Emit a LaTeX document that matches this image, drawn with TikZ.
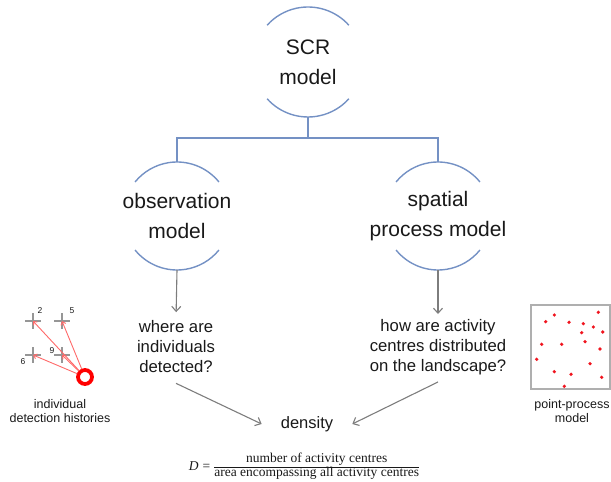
\documentclass[tikz,border=0pt]{standalone}
\usepackage{fontspec}
\setmainfont{Liberation Sans}
\newfontfamily\seriffam{Liberation Serif}
\usetikzlibrary{arrows.meta,calc}
\definecolor{linkblue}{RGB}{116,145,196}
\definecolor{arrowgray}{RGB}{125,125,125}
\definecolor{txt}{RGB}{25,25,25}
\definecolor{dotred}{RGB}{240,20,30}
\definecolor{linered}{RGB}{255,105,105}
\definecolor{crossgray}{RGB}{150,150,150}
\definecolor{boxgray}{RGB}{175,175,175}
\begin{document}
\begin{tikzpicture}[x=1pt,y=1pt,
  blueline/.style={draw=linkblue,line width=1.4pt},
  grayarrow/.style={draw=arrowgray,line width=1.1pt,-{Straight Barb[length=5pt,width=9pt]}},
  redarrow/.style={draw=linered,line width=0.9pt,-{Straight Barb[length=3pt,width=5pt]}},
  modelnode/.style={inner sep=0pt,outer sep=0pt,align=center,
     font=\fontsize{21}{30}\selectfont,text=txt},
  question/.style={align=center,font=\fontsize{16.7}{20}\selectfont,text=txt,inner sep=2pt},
  smalllabel/.style={align=center,font=\fontsize{12.5}{13.5}\selectfont,text=txt,inner sep=0pt},
  trapno/.style={font=\fontsize{8.5}{9}\selectfont,text=txt,inner sep=0pt},
  crossmark/.style={draw=crossgray,line width=1.1pt},
  ppdot/.style={fill=dotred,draw=none,circle,inner sep=0pt,minimum size=3.6pt}]
\useasboundingbox (0,0) rectangle (611,482);

% model nodes
\node[modelnode] (scr) at (308,420) {SCR\\model};
\node[modelnode] (obs) at (177,266) {observation\\model};
\node[modelnode] (sp)  at (438,266) {spatial\\process model};

\draw[blueline] ($(scr.center)+(42:55)$) arc[start angle=42,end angle=138,radius=55pt];
\draw[blueline] ($(scr.center)+(222:55)$) arc[start angle=222,end angle=318,radius=55pt];
\foreach \n in {obs,sp}{
  \draw[blueline] ($(\n.center)+(39:54)$) arc[start angle=39,end angle=141,radius=54pt];
  \draw[blueline] ($(\n.center)+(219:54)$) arc[start angle=219,end angle=321,radius=54pt];
  \coordinate (\n-top) at ($(\n.center)+(0,54)$);
  \coordinate (\n-bot) at ($(\n.center)+(0,-54)$);
}
\coordinate (scr-bot) at ($(scr.center)+(0,-55)$);

\coordinate (j) at (308,344);
\draw[blueline] (scr-bot) -- (j);
\draw[blueline] (obs-top) |- (j) -| (sp-top);

% questions
\node[question] (q1) at (176,135) {where are\\individuals\\detected?};
\node[question] (q2) at (438,135) {how are activity\\centres distributed\\on the landscape?};
\draw[grayarrow,shorten >=6.5pt] (obs-bot) -- (q1.north);
\draw[grayarrow,shorten >=3pt] (sp-bot) -- (q2.north);

% density
\node[font=\fontsize{16.5}{20}\selectfont,text=txt,inner xsep=19pt] (dens) at (307,58) {density};
\draw[grayarrow] ([yshift=-8pt]q1.south) -- (dens.west);
\draw[grayarrow] ([yshift=-5pt]q2.south) -- (dens.east);

% formula
\node[inner sep=0pt,text=txt] (formula) at (304,15) {\fontsize{13.5}{12.5}\selectfont\seriffam
  \setlength{\arrayrulewidth}{0.8pt}%
  $\mbox{\itshape D}\mathrel{\mbox{=}}\begin{tabular}{@{}c@{}}number of activity centres\\\hline area encompassing all activity centres\end{tabular}$};

% detection history icon
\coordinate (c2) at (33,161);
\coordinate (c5) at (62,161);
\coordinate (c6) at (33,127);
\coordinate (c9) at (62,127);
\foreach \c in {c2,c5,c6,c9}{
  \draw[crossmark] ([xshift=-8pt]\c) -- ([xshift=8pt]\c);
  \draw[crossmark] ([yshift=-8pt]\c) -- ([yshift=8pt]\c);
}
\node[trapno] (n2) at (40,171) {2};
\node[trapno] (n5) at (72,171) {5};
\node[trapno] (n9) at (52,131) {9};
\node[trapno] (n6) at (23,120) {6};
\node[circle,draw=red,line width=3.8pt,minimum size=14pt,inner sep=0pt,outer sep=1.5pt] (ring) at (85,105) {};
\foreach \c in {c2,c5,c6,c9}{
  \draw[redarrow] (ring) -- (\c);
}
\node[smalllabel] (hist) at (60,71) {individual\\detection histories};

% point process icon
\draw[draw=boxgray,line width=1.2pt] (531,93) rectangle (610,177);
\foreach \p in {(598.3,169.7),(554.3,167),(545.7,160.3),(569,159.7),(583.3,158.3),(593.3,155),
  (581.7,149.3),(602.7,150),(585,140.3),(541.7,137.7),(561.7,137.7),(600,133),(536.7,122.7),
  (590,118.3),(554.3,110.3),(571,107.7),(601.7,104.7),(564.3,95.7)}{
  \node[ppdot] at \p {};
}
\node[smalllabel] (pp) at (572,71) {point-process\\model};
\end{tikzpicture}
\end{document}
